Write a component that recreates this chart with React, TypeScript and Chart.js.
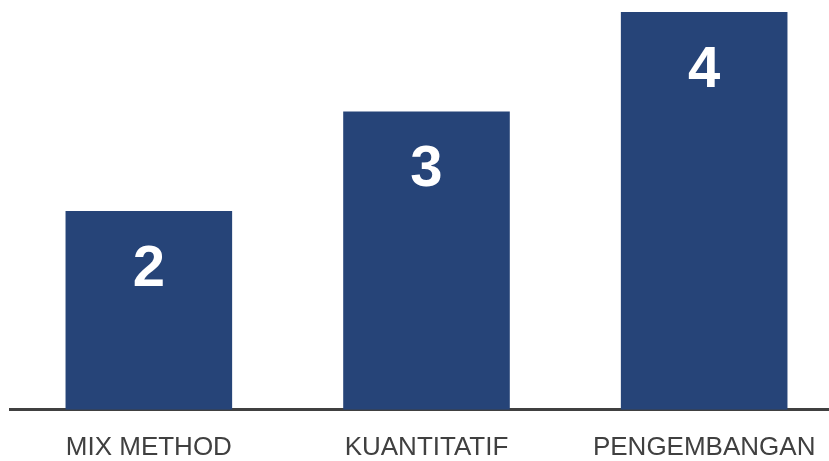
import React, { useEffect, useRef } from "react";
import { Chart, registerables } from "chart.js";

Chart.register(...registerables);

const categories: string[] = ["MIX METHOD", "KUANTITATIF", "PENGEMBANGAN"];
const values: number[] = [2, 3, 4];

const BAR_COLOR = "#264478";
const AXIS_COLOR = "#404040";

const valueLabelPlugin = {
  id: "valueLabels",
  afterDatasetsDraw(chart: any) {
    const ctx = chart.ctx;
    const meta = chart.getDatasetMeta(0);
    ctx.save();
    ctx.fillStyle = "#ffffff";
    ctx.font = "bold 58px 'Liberation Sans', Arial, sans-serif";
    ctx.textAlign = "center";
    ctx.textBaseline = "middle";
    meta.data.forEach((bar: any, i: number) => {
      const v = chart.data.datasets[0].data[i];
      ctx.fillText(String(v), bar.x, bar.y + 59);
    });
    ctx.restore();
  },
};

export default function App() {
  const canvasRef = useRef<HTMLCanvasElement | null>(null);

  useEffect(() => {
    if (!canvasRef.current) return;
    const chart = new Chart(canvasRef.current, {
      type: "bar",
      data: {
        labels: categories,
        datasets: [
          {
            data: values,
            backgroundColor: BAR_COLOR,
            borderWidth: 0,
            categoryPercentage: 0.6,
            barPercentage: 1,
          },
        ],
      },
      options: {
        animation: false,
        responsive: false,
        devicePixelRatio: 1,
        layout: { padding: { left: 10, right: 0, top: 12, bottom: 0 } },
        plugins: {
          legend: { display: false },
          tooltip: { enabled: false },
        },
        scales: {
          x: {
            z: 1,
            grid: { display: false, drawTicks: false },
            border: { display: true, color: AXIS_COLOR, width: 3 },
            ticks: {
              color: AXIS_COLOR,
              padding: 22,
              font: { family: "'Liberation Sans', Arial, sans-serif", size: 26 },
              maxRotation: 0,
              autoSkip: false,
            },
          },
          y: {
            display: false,
            min: 0,
            max: 4,
          },
        },
      },
      plugins: [valueLabelPlugin],
    });
    return () => chart.destroy();
  }, []);

  return (
    <div
      style={{
        position: "fixed",
        left: 0,
        top: 0,
        width: 829,
        height: 461,
        overflow: "hidden",
        background: "#ffffff",
      }}
    >
      <canvas
        ref={canvasRef}
        width={843}
        height={485}
        style={{ width: 843, height: 485, display: "block" }}
      />
    </div>
  );
}
